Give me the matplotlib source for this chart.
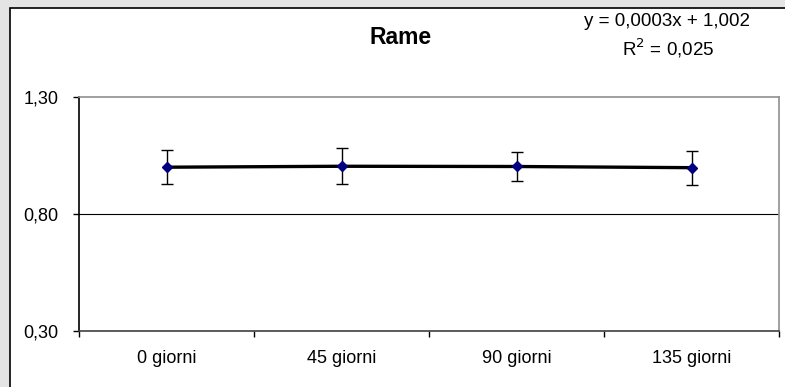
import matplotlib.pyplot as plt
import numpy as np
from matplotlib.patches import Rectangle

plt.rcParams['font.family'] = ['Liberation Sans', 'DejaVu Sans']

# dati
categorie = ['0 giorni', '45 giorni', '90 giorni', '135 giorni']
valori = [1.000, 1.004, 1.003, 0.998]
errori = [0.073, 0.077, 0.062, 0.073]
yticks = [0.30, 0.80, 1.30]

fig = plt.figure(figsize=(7.85, 3.87), dpi=100)
fig.patch.set_facecolor('#e4e4e4')

# area del grafico bianca con bordo nero
sfondo = Rectangle((10 / 785, -0.05), 1.0, (387 - 8) / 387 + 0.05,
                   transform=fig.transFigure, facecolor='white',
                   edgecolor='black', linewidth=1.2, zorder=-1)
fig.add_artist(sfondo)

ax = fig.add_axes([79 / 785, 56 / 387, 700 / 785, 234 / 387])
ax.set_facecolor('white')

x = np.arange(len(categorie)) + 0.5
ax.errorbar(x, valori, yerr=errori, fmt='none', ecolor='black',
            elinewidth=1, capsize=4, capthick=1, zorder=2)
ax.plot(x, valori, color='black', linewidth=2.4, zorder=3)
ax.plot(x, valori, linestyle='none', marker='D', markersize=5,
        color='#000080', zorder=4)

ax.set_xlim(0, len(categorie))
ax.set_ylim(0.30, 1.30)
ax.set_yticks(yticks)
ax.set_yticklabels([f'{v:.2f}'.replace('.', ',') for v in yticks], fontsize=13)
ax.set_xticks(np.arange(len(categorie) + 1))
ax.set_xticklabels([])
ax.set_xticks(x, minor=True)
ax.set_xticklabels(categorie, minor=True, fontsize=13)
ax.tick_params(axis='x', which='minor', length=0, pad=14)
ax.tick_params(axis='x', which='major', length=4, width=1, direction='out')
ax.tick_params(axis='y', length=4, width=1, direction='out', pad=11)

ax.axhline(0.80, color='black', linewidth=0.8, zorder=1)

ax.spines['left'].set_color('black')
ax.spines['bottom'].set_color('#404040')
ax.spines['top'].set_color('#909090')
ax.spines['right'].set_color('#909090')
for s in ax.spines.values():
    s.set_linewidth(1.2)

fig.text(401 / 785, 1 - 37 / 387, 'Rame', fontsize=16.5, fontweight='bold',
         ha='center', va='center')
fig.text(667 / 785, 1 - 22 / 387, 'y = 0,0003x + 1,002', fontsize=13.5,
         ha='center', va='center')
fig.text(668 / 785, 1 - 48 / 387, 'R$^2$ = 0,025', fontsize=13.5,
         ha='center', va='center')

fig.savefig('out.png', dpi=100, facecolor=fig.get_facecolor())
